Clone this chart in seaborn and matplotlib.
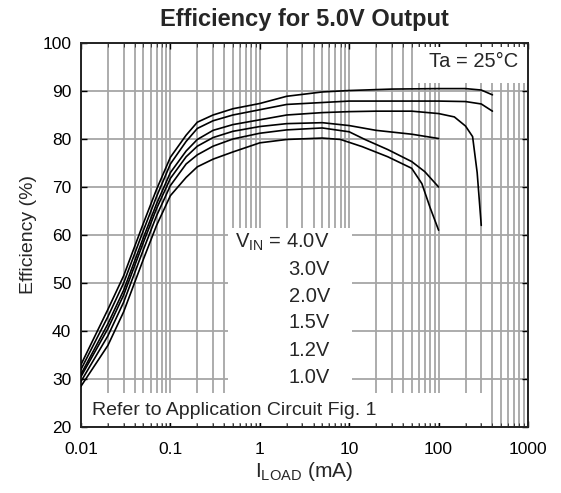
import numpy as np
import pandas as pd
import seaborn as sns
import matplotlib.pyplot as plt
from matplotlib.patches import Rectangle
from matplotlib.ticker import LogLocator, NullFormatter

# 부하 전류 (mA) / 효율 (%)
x_low = [0.01, 0.02, 0.03, 0.05, 0.07, 0.1, 0.15, 0.2, 0.3, 0.5]

iload_40 = x_low + [1, 2, 5, 10, 30, 100, 200, 300, 400]
eff_40 = [33, 44.5, 51.5, 62.5, 69.5, 76.2, 80.8, 83.5, 85, 86.3,
          87.4, 88.9, 89.8, 90.1, 90.4, 90.5, 90.5, 90.2, 89.2]

iload_30 = x_low + [1, 2, 5, 10, 30, 100, 200, 300, 400]
eff_30 = [32, 43, 50, 61, 68, 74.8, 79.5, 82.2, 83.8, 85,
          86.1, 87.2, 87.6, 87.9, 87.9, 87.9, 87.8, 87.3, 85.8]

iload_20 = x_low + [1, 2, 5, 10, 20, 50, 100, 150, 200, 240, 270, 300]
eff_20 = [31, 41.5, 48.5, 59.5, 66.5, 73, 77.5, 79.9, 81.8, 83,
          84, 85, 85.5, 85.7, 85.8, 85.8, 85.3, 84.6, 82.7, 80.5, 73, 62]

iload_15 = x_low + [1, 2, 5, 10, 20, 50, 100]
eff_15 = [30.5, 40.5, 47.5, 58.5, 65.5, 71.8, 76.3, 78.5, 80.3, 81.6,
          82.6, 83.2, 83.4, 82.8, 81.8, 81, 80.1]

iload_12 = x_low + [1, 2, 5, 10, 15, 27, 50, 70, 100]
eff_12 = [29.5, 39, 46, 57, 64, 70.3, 74.8, 76.7, 78.5, 80,
          81.2, 81.9, 82.3, 81.5, 79.9, 77.8, 75.3, 73.2, 70]

iload_10 = x_low + [1, 2, 5, 8, 14, 27, 50, 65, 80, 100]
eff_10 = [28.5, 37, 44, 55, 62, 68.2, 72, 74.2, 75.8, 77.3,
          79.2, 79.9, 80.2, 79.9, 78.4, 76.3, 73.9, 70.7, 65.8, 61]

vin_labels = ['4.0V', '3.0V', '2.0V', '1.5V', '1.2V', '1.0V']
curves = [(iload_40, eff_40), (iload_30, eff_30), (iload_20, eff_20),
          (iload_15, eff_15), (iload_12, eff_12), (iload_10, eff_10)]

frames = []
for vin, (xs, ys) in zip(vin_labels, curves):
    frames.append(pd.DataFrame({'iload': xs, 'eff': ys, 'vin': vin}))
df = pd.concat(frames, ignore_index=True)

sns.set_style('ticks')
plt.rcParams['font.family'] = ['Liberation Sans', 'DejaVu Sans']
plt.rcParams['mathtext.default'] = 'regular'

fig, ax = plt.subplots(figsize=(5.61, 4.93), dpi=100)
fig.subplots_adjust(left=81/561, right=528/561, top=1-43/493, bottom=1-427/493)

sns.lineplot(data=df, x='iload', y='eff', hue='vin', units='vin',
             estimator=None, sort=False, palette=['black'] * 6,
             linewidth=1.2, legend=False, ax=ax, zorder=3)

ax.set_xscale('log')
ax.set_xlim(0.01, 1000)
ax.set_ylim(20, 100)
ax.set_xticks([0.01, 0.1, 1, 10, 100, 1000],
              ['0.01', '0.1', '1', '10', '100', '1000'])
ax.xaxis.set_minor_locator(LogLocator(base=10, subs=np.arange(2, 10)))
ax.xaxis.set_minor_formatter(NullFormatter())
ax.set_yticks(np.arange(20, 101, 10))

ax.set_axisbelow(True)
ax.grid(which='both', axis='x', color='#a6a6a6', linewidth=1.3)
ax.grid(which='major', axis='y', color='#a6a6a6', linewidth=1.3)

ax.tick_params(which='major', direction='in', length=4, width=1,
               top=True, right=True, labelsize=12.5, pad=7, colors='black')
ax.tick_params(axis='x', which='major', pad=11)
ax.tick_params(which='minor', direction='in', length=3, top=True)
ax.tick_params(axis='y', which='minor', left=False, right=False)
for sp in ax.spines.values():
    sp.set_linewidth(1.4)
    sp.set_color('#222222')

# 텍스트 뒤 흰 박스
for (x0, y0, w, h) in [(0.329, 0.085, 0.277, 0.433),
                       (0.0, 0.011, 0.899, 0.078),
                       (0.748, 0.896, 0.252, 0.093)]:
    ax.add_patch(Rectangle((x0, y0), w, h, transform=ax.transAxes,
                           facecolor='white', edgecolor='none', zorder=1))

ax.set_title('Efficiency for 5.0V Output', fontsize=17, fontweight='bold', pad=12)
ax.set_ylabel('Efficiency (%)', fontsize=14, labelpad=4)
ax.set_xlabel('I$_{LOAD}$ (mA)', fontsize=15, labelpad=2)

ax.text(0.978, 0.953, 'Ta = 25°C', transform=ax.transAxes, ha='right',
        va='center', fontsize=14.5, zorder=4)
ax.text(0.025, 0.044, 'Refer to Application Circuit Fig. 1',
        transform=ax.transAxes, ha='left', va='center', fontsize=14, zorder=4)

label_y = [0.482, 0.409, 0.339, 0.271, 0.198, 0.128]
for i, (vin, ly) in enumerate(zip(vin_labels, label_y)):
    s = 'V$_{IN}$ = ' + vin if i == 0 else vin
    ax.text(0.557, ly, s, transform=ax.transAxes, ha='right', va='center',
            fontsize=14.5, zorder=4)

plt.savefig('out.png', dpi=100)
